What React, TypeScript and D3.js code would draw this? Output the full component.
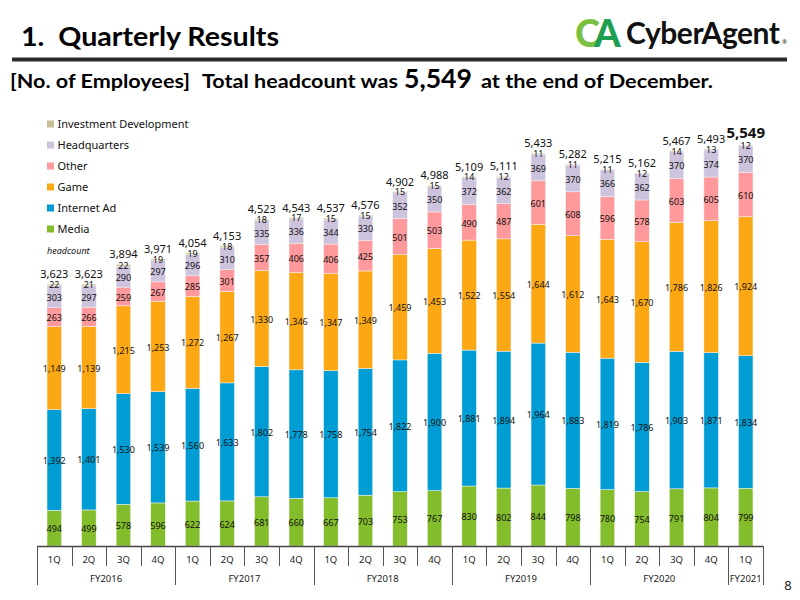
import { useEffect, useRef } from 'react'
import * as d3 from 'd3'

// headcount by segment, FY2016 1Q .. FY2021 1Q
const QUARTERS = ['1Q','2Q','3Q','4Q','1Q','2Q','3Q','4Q','1Q','2Q','3Q','4Q','1Q','2Q','3Q','4Q','1Q','2Q','3Q','4Q','1Q']
const YEARS = [
  { label: 'FY2016', n: 4 },
  { label: 'FY2017', n: 4 },
  { label: 'FY2018', n: 4 },
  { label: 'FY2019', n: 4 },
  { label: 'FY2020', n: 4 },
  { label: 'FY2021', n: 1 },
]
const MEDIA = [494, 499, 578, 596, 622, 624, 681, 660, 667, 703, 753, 767, 830, 802, 844, 798, 780, 754, 791, 804, 799]
const INTERNET_AD = [1392, 1401, 1530, 1539, 1560, 1633, 1802, 1778, 1758, 1754, 1822, 1900, 1881, 1894, 1964, 1883, 1819, 1786, 1903, 1871, 1834]
const GAME = [1149, 1139, 1215, 1253, 1272, 1267, 1330, 1346, 1347, 1349, 1459, 1453, 1522, 1554, 1644, 1612, 1643, 1670, 1786, 1826, 1924]
const OTHER = [263, 266, 259, 267, 285, 301, 357, 406, 406, 425, 501, 503, 490, 487, 601, 608, 596, 578, 603, 605, 610]
const HQ = [303, 297, 290, 297, 296, 310, 335, 336, 344, 330, 352, 350, 372, 362, 369, 370, 366, 362, 370, 374, 370]
const INV_DEV = [22, 21, 22, 19, 19, 18, 18, 17, 15, 15, 15, 15, 14, 12, 11, 11, 11, 12, 14, 13, 12]

// stacking order bottom -> top
const SERIES = [
  { key: 'Media', values: MEDIA, color: '#84bd2b' },
  { key: 'Internet Ad', values: INTERNET_AD, color: '#009dd4' },
  { key: 'Game', values: GAME, color: '#fca814' },
  { key: 'Other', values: OTHER, color: '#ff999b' },
  { key: 'Headquarters', values: HQ, color: '#cdc3dd' },
  { key: 'Investment Development', values: INV_DEV, color: '#c7be94' },
]

const W = 800, H = 600
const X0 = 37, X1 = 763, BASE = 546
const LABEL_FONT = '"Noto Sans", "Open Sans", sans-serif'
const HEAD_FONT = 'Lato, "Noto Sans", sans-serif'
const fmt = d3.format(',')

export default function App() {
  const ref = useRef<SVGSVGElement>(null)

  useEffect(() => {
    const svg = d3.select(ref.current)
    svg.selectAll('*').remove()

    const rows = QUARTERS.map((q, i) => {
      const r: any = { i }
      SERIES.forEach(s => { r[s.key] = s.values[i] })
      return r
    })
    const stack = d3.stack().keys(SERIES.map(s => s.key))(rows)
    const totals = rows.map(r => d3.sum(SERIES, s => r[s.key]))

    const x = d3.scaleBand<number>().domain(d3.range(QUARTERS.length)).range([X0, X1])
      .paddingInner(0.58).paddingOuter(0.29)
    const y = d3.scaleLinear().domain([0, 6000]).range([BASE, BASE - 6000 * 0.07227])
    const step = x.step()

    // ── header ────────────────────────────────────────────────────────────
    const headText = (tx: number, ty: number, size: number, len: number, s: string) =>
      svg.append('text').attr('x', tx).attr('y', ty).attr('font-family', HEAD_FONT)
        .attr('font-weight', 700).attr('font-size', size).attr('fill', '#000')
        .attr('xml:space', 'preserve').attr('textLength', len).attr('lengthAdjust', 'spacingAndGlyphs')
        .text(s)

    headText(21, 46, 26, 258, '1.  Quarterly Results')
    svg.append('rect').attr('x', 12).attr('y', 57.5).attr('width', 775).attr('height', 4).attr('fill', '#2b2b2b')

    const logo = svg.append('g')
    logo.append('text').attr('x', 575).attr('y', 47).attr('font-family', HEAD_FONT).attr('font-weight', 900)
      .attr('font-size', 38).attr('fill', '#7ac143').text('C')
    logo.append('text').attr('x', 594).attr('y', 47).attr('font-family', HEAD_FONT).attr('font-weight', 900)
      .attr('font-size', 38).attr('fill', '#1e9f4f').text('A')
    logo.append('text').attr('x', 626).attr('y', 44).attr('font-family', HEAD_FONT).attr('font-weight', 700)
      .attr('font-size', 30).attr('fill', '#111').attr('textLength', 154).text('CyberAgent')
    logo.append('text').attr('x', 782).attr('y', 44).attr('font-family', LABEL_FONT)
      .attr('font-size', 6).attr('fill', '#111').text('®')

    headText(10, 88, 18.5, 180, '[No. of Employees]')
    headText(202, 88, 18.5, 196, 'Total headcount was')
    headText(404, 88, 27, 68, fmt(totals[totals.length - 1]))
    headText(481, 88, 18.5, 232, 'at the end of December.')

    // ── legend ────────────────────────────────────────────────────────────
    const legend = svg.append('g').attr('font-family', LABEL_FONT).attr('font-size', 11).attr('fill', '#111')
    SERIES.slice().reverse().forEach((s, k) => {
      const cy = 124 + k * 21
      legend.append('rect').attr('x', 47).attr('y', cy - 3.5).attr('width', 7).attr('height', 7).attr('fill', s.color)
      legend.append('text').attr('x', 57.5).attr('y', cy).attr('dy', '0.35em').text(s.key)
    })
    legend.append('text').attr('x', 47).attr('y', 251).attr('dy', '0.35em').attr('font-size', 9)
      .attr('font-style', 'italic').text('headcount')

    // ── stacked bars ──────────────────────────────────────────────────────
    const bars = svg.append('g')
    stack.forEach((layer, li) => {
      const g = bars.append('g')
      g.selectAll('rect').data(layer).join('rect')
        .attr('x', (_, i) => x(i)!)
        .attr('width', x.bandwidth())
        .attr('y', d => y(d[1]))
        .attr('height', d => y(d[0]) - y(d[1]))
        .attr('fill', SERIES[li].color)
        .attr('stroke', '#f4f4f4').attr('stroke-width', 0.5)
    })

    const labels = svg.append('g').attr('font-family', LABEL_FONT).attr('font-size', 9)
      .attr('fill', '#111').attr('text-anchor', 'middle')
    stack.forEach((layer, li) => {
      // the thin top segment sits its label just above the HQ label
      const nudge = li === SERIES.length - 1 ? 0 : 1
      labels.append('g').selectAll('text').data(layer).join('text')
        .attr('x', (_, i) => x(i)! + x.bandwidth() / 2)
        .attr('y', d => (y(d[0]) + y(d[1])) / 2 + nudge)
        .attr('dy', '0.35em')
        .text(d => fmt(d[1] - d[0]))
    })

    const last = totals.length - 1
    svg.append('g').attr('font-family', LABEL_FONT).attr('text-anchor', 'middle').attr('fill', '#111')
      .selectAll('text').data(totals).join('text')
      .attr('x', (_, i) => x(i)! + x.bandwidth() / 2)
      .attr('y', (d, i) => y(d) - (i === last ? 12 : 10))
      .attr('dy', '0.35em')
      .attr('font-size', (_, i) => i === last ? 15 : 11)
      .attr('font-weight', (_, i) => i === last ? 700 : 400)
      .text(d => fmt(d))

    // ── category axis (quarters grouped by fiscal year) ─────────────────
    const axis = svg.append('g').attr('stroke', '#555').attr('stroke-width', 1)
    axis.append('line').attr('x1', X0).attr('x2', X1).attr('y1', BASE + 0.5).attr('y2', BASE + 0.5)
      .attr('stroke', '#444').attr('stroke-width', 1.5)
    const yearEdges = new Set<number>([0])
    let acc = 0
    YEARS.forEach(yr => { acc += yr.n; yearEdges.add(acc) })
    d3.range(QUARTERS.length + 1).forEach(i => {
      const xx = Math.round(X0 + i * step) + 0.5
      axis.append('line').attr('x1', xx).attr('x2', xx).attr('y1', BASE)
        .attr('y2', yearEdges.has(i) ? 585 : 566)
    })
    const axText = svg.append('g').attr('font-family', LABEL_FONT).attr('font-size', 9.5)
      .attr('fill', '#222').attr('text-anchor', 'middle')
    QUARTERS.forEach((q, i) => {
      axText.append('text').attr('x', X0 + (i + 0.5) * step).attr('y', 560).attr('dy', '0.35em').text(q)
    })
    acc = 0
    YEARS.forEach(yr => {
      const cx = X0 + (acc + yr.n / 2) * step
      axText.append('text').attr('x', cx).attr('y', 579).attr('dy', '0.35em').text(yr.label)
      acc += yr.n
    })

    svg.append('text').attr('x', 788).attr('y', 585).attr('dy', '0.35em').attr('text-anchor', 'middle')
      .attr('font-family', LABEL_FONT).attr('font-size', 13).attr('fill', '#222').text('8')
  }, [])

  return (
    <svg ref={ref} width={W} height={H} viewBox={`0 0 ${W} ${H}`}
      style={{ position: 'absolute', left: 0, top: 0, display: 'block', background: '#fff' }} />
  )
}
